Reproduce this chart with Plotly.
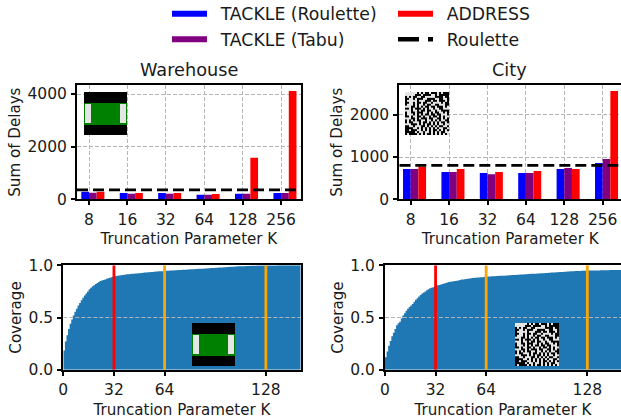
import base64, struct, zlib
import plotly.graph_objects as go

W, H = 621, 420
K_LABELS = ["8", "16", "32", "64", "128", "256"]
K_POS = [0, 1, 2, 3, 4, 5]

WH_ROULETTE = [289, 240, 240, 170, 210, 240]
WH_TABU = [250, 210, 210, 170, 210, 240]
WH_ADDRESS = [289, 240, 240, 200, 1580, 4110]
WH_BASE = 355

CITY_ROULETTE = [717, 646, 622, 622, 717, 859]
CITY_TABU = [717, 646, 590, 622, 740, 953]
CITY_ADDRESS = [770, 717, 646, 670, 717, 2560]
CITY_BASE = 803

WH_COVERAGE = [
    .185, .27, .33, .39, .44, .48, .52, .555, .585, .615,
    .64, .665, .69, .71, .73, .75, .77, .785, .80, .81,
    .82, .83, .84, .85, .855, .86, .865, .87, .875, .88,
    .885, .89, .895, .898, .90, .902, .905, .907, .91, .912,
    .914, .915, .916, .918, .92, .921, .922, .924, .925, .927,
    .928, .93, .931, .933, .934, .935, .937, .938, .94, .941,
    .942, .943, .944, .945, .946, .947, .948, .949, .95, .951,
    .952, .953, .954, .955, .956, .957, .958, .958, .959, .96,
    .961, .962, .963, .964, .965, .966, .966, .967, .968, .969,
    .97, .971, .972, .973, .974, .975, .976, .977, .978, .979,
    .98, .981, .982, .983, .984, .985, .986, .987, .988, .989,
    .99, .99, .991, .992, .992, .993, .994, .994, .995, .995,
    .996, .996, .997, .997, .997, .998, .998, .998, .998, .999,
    .999, .999, .999, .999, .999, 1, 1, 1, 1, 1,
    1, 1, 1, 1, 1, 1, 1, 1, 1, 1, 1,
]
CITY_COVERAGE = [
    .12, .175, .23, .275, .32, .355, .39, .425, .445, .46,
    .49, .52, .54, .565, .585, .60, .615, .63, .65, .67,
    .685, .70, .715, .73, .74, .75, .76, .77, .78, .785,
    .79, .80, .803, .808, .812, .815, .82, .825, .83, .835,
    .84, .842, .845, .847, .85, .852, .855, .858, .863, .865,
    .867, .869, .871, .873, .875, .878, .88, .881, .882, .883,
    .885, .886, .888, .89, .891, .892, .893, .894, .895, .896,
    .897, .898, .899, .90, .90, .901, .902, .903, .904, .905,
    .906, .907, .908, .909, .91, .911, .912, .913, .914, .915,
    .916, .917, .918, .919, .919, .92, .921, .922, .923, .924,
    .925, .926, .927, .928, .929, .93, .931, .932, .933, .934,
    .935, .936, .937, .938, .939, .94, .941, .942, .943, .944,
    .945, .945, .946, .946, .947, .947, .948, .948, .949, .949,
    .95, .95, .95, .951, .951, .951, .952, .952, .952, .953,
    .953, .953, .954, .954, .954, .955, .955, .955, .955, .955, .955,
]
COV_EDGES = list(range(151))
COV_TICKS = [0, 32, 64, 128]
RED_K = [32]
ORANGE_K = [64, 128]

CITY_MAP = [
    "......#.#.##.###.#.###",
    ".....###.####..#.#####",
    "#.#.##..##.....####.##",
    "##..#.###..####..##..#",
    "#.....#...###.##.###.#",
    "##..#.##.##..#....#.##",
    "#...#.#..#.##..##...##",
    "...##.#.#.##.##.###.#.",
    "##.#.###.#.#..#..##...",
    "...#..#.##.##..#..####",
    "#..##.###..#.#.##..#.#",
    "#...#.#.#.##.##.##...#",
    "##.#..##.#..#.##.#.#..",
    "...##.#.###.##..##.#.#",
    "#.#.#.##..#..#.#.#..##",
    "#.##...#.##.#.#.#.##.#",
    "...###.#.#.##.#.#..#..",
    "##..#...##.#.#.#.##..#",
    "####..#.#.#.#.#.#..##.",
    "##.###..#.#.#.##.#.#.#",
    "#####.#..#..#.#.#.##..",
    "#.####.#.#.##.#.#.#.#.",
]
WH_MAP = (
    ["#" * 43] * 11
    + ["g" * 43]
    + ["g" + "." * 6 + "g" * 29 + "." * 6 + "g"] * 19
    + ["g" * 43] * 2
    + ["#" * 43] * 10
)
PALETTE = {"#": (0, 0, 0), ".": (229, 229, 229), "g": (0, 128, 0)}


def png_uri(rows, rep=1):
    big = [r for r in rows for _ in range(rep)]
    raw = b"".join(b"\0" + b"".join(bytes(PALETTE[c]) * rep for c in r) for r in big)
    def chunk(t, d):
        return struct.pack(">I", len(d)) + t + d + struct.pack(">I", zlib.crc32(t + d))
    data = (b"\x89PNG\r\n\x1a\n"
            + chunk(b"IHDR", struct.pack(">IIBBBBB", len(big[0]) * rep, len(big), 8, 2, 0, 0, 0))
            + chunk(b"IDAT", zlib.compress(raw)) + chunk(b"IEND", b""))
    return "data:image/png;base64," + base64.b64encode(data).decode()


FONT = "DejaVu Sans"
BLUE, PURPLE, RED = "#0000ff", "#800080", "#ff0000"
GRID = "#b5b5b5"
TXT = "#1a1a1a"
fig = go.Figure()


def dx(a, b):
    return [a / W, b / W]


def dy(top, bot):
    return [1 - bot / H, 1 - top / H]


def axis(domain, anchor, rng, title, standoff, **kw):
    return dict(domain=domain, anchor=anchor, range=rng, showline=True, mirror=True,
                linecolor="black", linewidth=2, ticks="outside", ticklen=4, tickwidth=1.5,
                tickcolor="black", zeroline=False, ticklabelstandoff=1,
                tickfont=dict(family=FONT, size=15.5, color=TXT),
                title=dict(text=title, standoff=standoff,
                           font=dict(family=FONT, size=15.1, color=TXT)), **kw)


GRIDKW = dict(showgrid=True, gridcolor=GRID, gridwidth=1, griddash="4px,2px")


def add_bars(xa, ya, r, t, a, base, xr):
    for vals, col, off in ((r, BLUE, -0.2), (t, PURPLE, 0.0), (a, RED, 0.2)):
        fig.add_bar(x=K_POS, y=vals, width=0.2, offset=off, marker=dict(color=col, line_width=0),
                    xaxis=xa, yaxis=ya, showlegend=False)
    fig.add_scatter(x=xr, y=[base, base], mode="lines", xaxis=xa, yaxis=ya, showlegend=False,
                    line=dict(color="black", width=2.8, dash="11px,5px"))


def add_cov(xa, ya, cov, xr):
    fig.add_scatter(x=COV_EDGES, y=cov, mode="lines", fill="tozeroy", fillcolor="#1f77b4",
                    line=dict(color="#1f77b4", width=0, shape="hv"),
                    xaxis=xa, yaxis=ya, showlegend=False)
    fig.add_scatter(x=xr, y=[0.5, 0.5], mode="lines", xaxis=xa, yaxis=ya, showlegend=False,
                    line=dict(color=GRID, width=1, dash="4px,2px"))
    for k in RED_K:
        fig.add_scatter(x=[k, k], y=[0, 1], mode="lines", xaxis=xa, yaxis=ya, showlegend=False,
                        line=dict(color="#ff0000", width=2.8))
    for k in ORANGE_K:
        fig.add_scatter(x=[k, k], y=[0, 1], mode="lines", xaxis=xa, yaxis=ya, showlegend=False,
                        line=dict(color="#ffa500", width=2.8))


TL_X = [-0.3125, 5.51]
TR_X = [-0.297, 5.477]
BL_X = [0, 150]
BR_X = [0, 149.3]

add_bars("x", "y", WH_ROULETTE, WH_TABU, WH_ADDRESS, WH_BASE, TL_X)
add_bars("x2", "y2", CITY_ROULETTE, CITY_TABU, CITY_ADDRESS, CITY_BASE, TR_X)
add_cov("x3", "y3", WH_COVERAGE, BL_X)
add_cov("x4", "y4", CITY_COVERAGE, BR_X)

LEG = [("TACKLE (Roulette)", BLUE, "legend", 6, "solid"),
       ("TACKLE (Tabu)", PURPLE, "legend", 6, "solid"),
       ("ADDRESS", RED, "legend2", 6, "solid"),
       ("Roulette", "black", "legend2", 4.5, "21px,9px")]
for name, col, leg, w, dash in LEG:
    fig.add_scatter(x=[None], y=[None], mode="lines", name="\u2002" + name, legend=leg, legendgroup=name,
                    line=dict(color=col, width=w, dash=dash), xaxis="x", yaxis="y")

legend_style = dict(font=dict(family=FONT, size=17.3, color=TXT), itemwidth=35,
                    traceorder="grouped", tracegroupgap=0, bgcolor="rgba(0,0,0,0)",
                    xanchor="left", yanchor="top", orientation="v", itemclick=False)


def image(src, x0, y0, x1, y1):
    return dict(source=src, xref="paper", yref="paper", x=x0 / W, y=1 - y0 / H,
                sizex=(x1 - x0) / W, sizey=(y1 - y0) / H, sizing="stretch",
                xanchor="left", yanchor="top", layer="above")


wh_png, city_png = png_uri(WH_MAP), png_uri(CITY_MAP, 2)

fig.update_layout(
    width=W, height=H, margin=dict(l=0, r=0, t=0, b=0, autoexpand=False), autosize=False,
    paper_bgcolor="white", plot_bgcolor="white", barmode="overlay",
    font=dict(family=FONT),
    legend=dict(x=167 / W, y=1 + 4 / H, **legend_style),
    legend2=dict(x=393 / W, y=1 + 4 / H, **legend_style),
    xaxis=axis(dx(77, 300.7), "y", TL_X, "Truncation Parameter K", 6, tickmode="array",
               tickvals=K_POS, ticktext=K_LABELS, **GRIDKW),
    yaxis=axis(dy(85, 199.3), "x", [0, 4342], "Sum of Delays", 3, tickmode="array",
               tickvals=[0, 2000, 4000], **GRIDKW),
    xaxis2=axis(dx(399.3, 621), "y2", TR_X, "Truncation Parameter K", 6, tickmode="array",
                tickvals=K_POS, ticktext=K_LABELS, **GRIDKW),
    yaxis2=axis(dy(85, 199.3), "x2", [0, 2702], "Sum of Delays", 3, tickmode="array",
                tickvals=[0, 1000, 2000], **GRIDKW),
    xaxis3=axis(dx(63.3, 300.7), "y3", BL_X, "Truncation Parameter K", 6, tickmode="array",
                tickvals=COV_TICKS, showgrid=False),
    yaxis3=axis(dy(265.3, 369.7), "x3", [0, 1], "Coverage", 3, tickmode="array",
                tickvals=[0, 0.5, 1], ticktext=["0.0", "0.5", "1.0"], showgrid=False),
    xaxis4=axis(dx(385, 621), "y4", BR_X, "Truncation Parameter K", 6, tickmode="array",
                tickvals=COV_TICKS, showgrid=False),
    yaxis4=axis(dy(265.3, 369.7), "x4", [0, 1], "Coverage", 3, tickmode="array",
                tickvals=[0, 0.5, 1], ticktext=["0.0", "0.5", "1.0"], showgrid=False),
    annotations=[
        dict(text="Warehouse", x=188.5 / W, y=1 - 70 / H, xref="paper", yref="paper", showarrow=False,
             xanchor="center", yanchor="middle", font=dict(family=FONT, size=17.7, color=TXT)),
        dict(text="City", x=509 / W, y=1 - 70 / H, xref="paper", yref="paper", showarrow=False,
             xanchor="center", yanchor="middle", font=dict(family=FONT, size=17.7, color=TXT)),
    ],
    images=[image(wh_png, 84, 92, 127, 135), image(city_png, 405, 92, 449, 135),
            image(wh_png, 192, 323, 235, 366), image(city_png, 515, 323, 559, 366)],
)
fig.write_html("out.html", config={"displayModeBar": False},
               post_script="document.body.style.margin='0';")
